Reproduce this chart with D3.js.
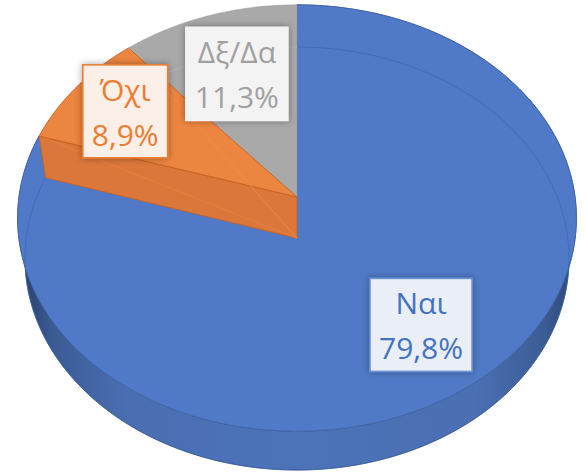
<!DOCTYPE html>
<html><head><meta charset="utf-8">
<script src="https://cdn.jsdelivr.net/npm/d3@7"></script>
<style>html,body{margin:0;padding:0;background:#fff;} svg{display:block}</style>
</head><body>
<svg id="chart" width="586" height="472"></svg>
<script>
// ---- data ----
const categories = ["Ναι", "Όχι", "Δξ/Δα"];
const values = [79.8, 8.9, 11.3];
const valueLabels = ["79,8%", "8,9%", "11,3%"];

// ---- styles ----
const palette = {
  top:       ["#5079C7", "#EC8540", "#A9A9A9"],
  wall:      ["#4A70B6", "#DB773A", "#8F8F8F"],
  edge:      ["#3D63A8", "#C8621F", "#8A8A8A"],
  text:      ["#4472C4", "#ED7D31", "#A0A0A0"],
  boxFill:   ["#E9EEF7", "#FBEFE7", "#F3F3F3"],
  boxStroke: ["#6E93D2", "#ED7D31", "#F3F3F3"]
};
const labelRadius = [0.71, 0.77, 0.66];

// ---- perspective projection of a unit-radius 3D pie ----
const cam = {cx: 297, cy: 197, f: 1835, d0: 6.6, phi: 49.4 * Math.PI / 180, h: 0.234};
function proj(a, r, z) {
  const u = r * Math.sin(a), v = r * Math.cos(a);
  const Y = v * Math.sin(cam.phi) + z * Math.cos(cam.phi);
  const D = cam.d0 + v * Math.cos(cam.phi) - z * Math.sin(cam.phi);
  return [cam.cx + cam.f * u / D, cam.cy - cam.f * Y / D];
}
function arcPts(a0, a1, z) {
  const n = Math.max(2, Math.ceil(Math.abs(a1 - a0) / 0.01));
  return d3.range(n + 1).map(i => proj(a0 + (a1 - a0) * i / n, 1, z));
}
const line = d3.line();
const closed = pts => line(pts) + "Z";

const svg = d3.select("#chart");
const defs = svg.append("defs");

// wall gradient (horizontal shading)
const g0 = defs.append("linearGradient").attr("id", "wallBlue")
  .attr("gradientUnits", "userSpaceOnUse").attr("x1", 17).attr("x2", 578).attr("y1", 0).attr("y2", 0);
[[0, "#263C66"], [0.06, "#3A5A92"], [0.2, "#4A6FB3"], [0.5, "#4C72B8"], [0.82, "#4A6FB2"], [0.94, "#3C5C94"], [1, "#2A4475"]]
  .forEach(s => g0.append("stop").attr("offset", s[0]).attr("stop-color", s[1]));

const shadow = defs.append("filter").attr("id", "shadow").attr("x", "-30%").attr("y", "-30%").attr("width", "160%").attr("height", "160%");
shadow.append("feDropShadow").attr("dx", 0).attr("dy", 0).attr("stdDeviation", 3.5)
  .attr("flood-color", "#000").attr("flood-opacity", 0.35);

const pie = d3.pie().sort(null).value(d => d).startAngle(0).endAngle(2 * Math.PI);
const arcs = pie(values);
const h = -cam.h;

const gPie = svg.append("g");

// 1) main (blue) slice: outer wall, then top face
const A = arcs[0];
gPie.append("path")
  .attr("d", closed(arcPts(A.startAngle, A.endAngle, 0).concat(arcPts(A.endAngle, A.startAngle, h))))
  .attr("fill", "url(#wallBlue)").attr("stroke", "#34558F").attr("stroke-width", 0.8);
gPie.append("path")
  .attr("d", closed([proj(0, 0, 0)].concat(arcPts(A.startAngle, A.endAngle, 0))))
  .attr("fill", palette.top[0]).attr("stroke", palette.edge[0]).attr("stroke-width", 0.8);

// faint hidden bottom outline showing through
gPie.append("path")
  .attr("d", line(arcPts(0, A.endAngle, h)))
  .attr("fill", "none").attr("stroke", "#3A60A6").attr("stroke-width", 1).attr("opacity", 0.55);

// 2) gray slice top face
const C = arcs[2];
gPie.append("path")
  .attr("d", closed([proj(0, 0, 0)].concat(arcPts(C.startAngle, C.endAngle, 0))))
  .attr("fill", palette.top[2]).attr("stroke", "#9C9C9C").attr("stroke-width", 0.6);
gPie.append("path")
  .attr("d", line(arcPts(C.startAngle, C.endAngle, h)))
  .attr("fill", "none").attr("stroke", "#BDBDBD").attr("stroke-width", 1).attr("opacity", 0.6);

// 3) orange slice: radial wall then top face
const B = arcs[1];
gPie.append("path")
  .attr("d", closed([proj(0, 0, 0), proj(B.startAngle, 1, 0), proj(B.startAngle, 1, h), proj(0, 0, h)]))
  .attr("fill", palette.wall[1]).attr("stroke", palette.edge[1]).attr("stroke-width", 0.9);
gPie.append("path")
  .attr("d", line([proj(B.startAngle, 1, 0), proj(0, 0, h)]))
  .attr("fill", "none").attr("stroke", "#E8853F").attr("stroke-width", 1).attr("opacity", 0.7);
gPie.append("path")
  .attr("d", closed([proj(0, 0, 0)].concat(arcPts(B.startAngle, B.endAngle, 0))))
  .attr("fill", palette.top[1]).attr("stroke", palette.edge[1]).attr("stroke-width", 0.9);
gPie.append("path")
  .attr("d", line([proj(B.endAngle, 1, 0), proj(0, 0, h)]))
  .attr("fill", "none").attr("stroke", "#F09550").attr("stroke-width", 1).attr("opacity", 0.6);

// ---- labels ----
const gLab = svg.append("g");
arcs.forEach((d, i) => {
  const mid = (d.startAngle + d.endAngle) / 2;
  const [x, y] = proj(mid, labelRadius[i], 0);
  const g = gLab.append("g").attr("transform", `translate(${x},${y})`);
  const rect = g.append("rect").attr("fill", palette.boxFill[i]).attr("stroke", palette.boxStroke[i])
    .attr("stroke-width", 1.6).attr("filter", "url(#shadow)");
  const t1 = g.append("text").attr("x", 0).attr("y", -10.5).text(categories[i]);
  const t2 = g.append("text").attr("x", 0).attr("y", 34.5).text(valueLabels[i]);
  [t1, t2].forEach(t => t.attr("text-anchor", "middle").attr("font-family", "'Open Sans', 'Noto Sans', sans-serif")
    .attr("font-size", 30).attr("fill", palette.text[i]));
  const w = Math.max(t1.node().getComputedTextLength(), t2.node().getComputedTextLength()) + 18;
  rect.attr("x", -w / 2).attr("y", -46.5).attr("width", w).attr("height", 93);
});
</script>
</body></html>
